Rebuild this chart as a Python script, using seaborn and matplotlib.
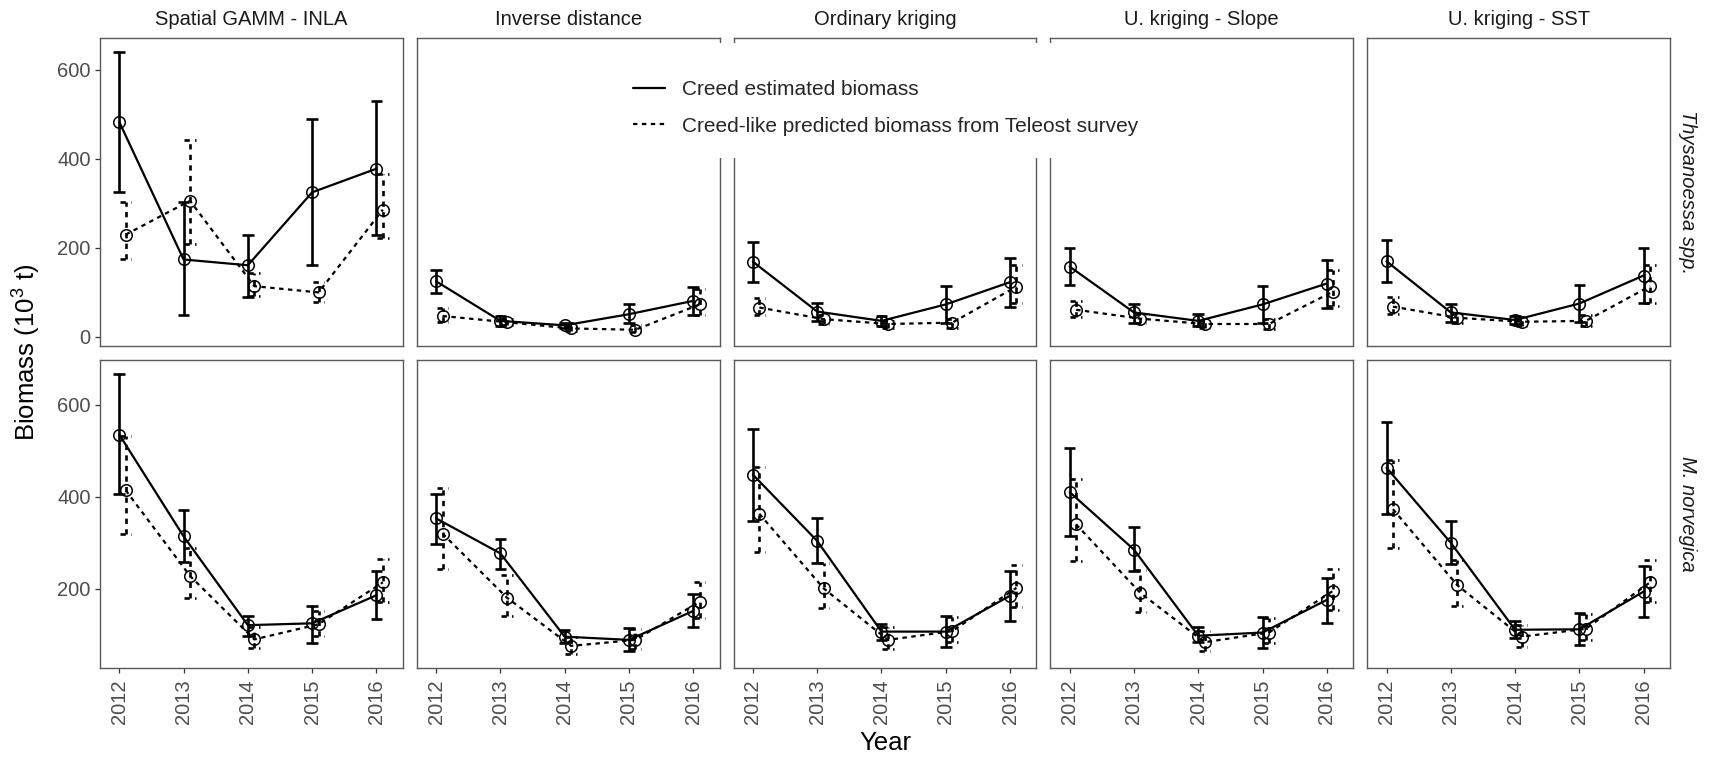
import numpy as np
import pandas as pd
import matplotlib
matplotlib.use("Agg")
import matplotlib.pyplot as plt
from matplotlib.lines import Line2D
from matplotlib.patches import Rectangle
import seaborn as sns

# ---------------- data ----------------
years = [2012, 2013, 2014, 2015, 2016]
methods = ["Spatial GAMM - INLA", "Inverse distance", "Ordinary kriging",
           "U. kriging - Slope", "U. kriging - SST"]
species = ["Thysanoessa spp.", "M. norvegica"]
series = ["Creed estimated biomass", "Creed-like predicted biomass from Teleost survey"]

# Thysanoessa spp. -- Creed estimated (rows = methods, cols = years)
thy_creed_est = [[483, 174, 161, 325, 378],
                 [125, 36, 26, 51, 81],
                 [169, 57, 36, 73, 123],
                 [158, 55, 36, 73, 120],
                 [170, 55, 38, 75, 138]]
thy_creed_lo = [[326, 49, 90, 161, 228],
                [99, 25, 19, 32, 49],
                [123, 36, 25, 32, 68],
                [117, 32, 25, 32, 66],
                [123, 34, 28, 34, 76]]
thy_creed_hi = [[641, 303, 230, 490, 530],
                [150, 46, 32, 73, 113],
                [214, 77, 47, 114, 177],
                [200, 75, 51, 114, 172],
                [217, 73, 47, 117, 200]]
# Thysanoessa spp. -- Teleost-predicted
thy_tel_est = [[230, 306, 114, 100, 286],
               [47, 33, 19, 16, 73],
               [66, 40, 29, 32, 113],
               [61, 41, 29, 29, 102],
               [68, 43, 34, 36, 114]]
thy_tel_lo = [[174, 208, 92, 79, 223],
              [34, 27, 14, 12, 49],
              [49, 29, 21, 21, 77],
              [45, 31, 21, 17, 70],
              [51, 31, 25, 25, 77]]
thy_tel_hi = [[303, 443, 143, 123, 367],
              [64, 40, 25, 26, 108],
              [87, 49, 36, 41, 161],
              [80, 51, 36, 40, 150],
              [90, 51, 41, 49, 161]]
# M. norvegica -- Creed estimated
mn_creed_est = [[535, 314, 121, 125, 186],
                [353, 277, 96, 89, 152],
                [448, 304, 107, 107, 185],
                [410, 285, 98, 105, 176],
                [463, 300, 111, 112, 194]]
mn_creed_lo = [[405, 258, 98, 83, 134],
               [298, 243, 82, 65, 116],
               [347, 256, 89, 73, 131],
               [315, 238, 84, 71, 126],
               [363, 253, 93, 77, 138]]
mn_creed_hi = [[667, 371, 142, 163, 239],
               [407, 308, 111, 114, 189],
               [547, 353, 124, 141, 238],
               [506, 334, 116, 139, 224],
               [562, 347, 129, 147, 249]]
# M. norvegica -- Teleost-predicted
mn_tel_est = [[414, 228, 90, 123, 214],
              [320, 181, 76, 89, 172],
              [363, 201, 89, 108, 202],
              [340, 191, 84, 105, 196],
              [373, 208, 96, 113, 214]]
mn_tel_lo = [[320, 181, 72, 98, 171],
             [243, 141, 59, 69, 136],
             [280, 158, 69, 84, 161],
             [261, 150, 65, 82, 155],
             [288, 163, 74, 89, 172]]
mn_tel_hi = [[532, 288, 118, 152, 264],
             [418, 230, 95, 112, 215],
             [464, 255, 116, 139, 251],
             [439, 241, 108, 136, 243],
             [479, 262, 121, 145, 262]]

# ---------------- build long table ----------------
tables = {
    (species[0], series[0]): (thy_creed_est, thy_creed_lo, thy_creed_hi),
    (species[0], series[1]): (thy_tel_est, thy_tel_lo, thy_tel_hi),
    (species[1], series[0]): (mn_creed_est, mn_creed_lo, mn_creed_hi),
    (species[1], series[1]): (mn_tel_est, mn_tel_lo, mn_tel_hi),
}
dodge = {series[0]: 0.0, series[1]: 0.1}
rows = []
for (sp, se), (est, lo, hi) in tables.items():
    for mi, m in enumerate(methods):
        for yi, yr in enumerate(years):
            rows.append(dict(species=sp, method=m, series=se, year=yr,
                             x=yr + dodge[se], est=est[mi][yi],
                             lo=lo[mi][yi], hi=hi[mi][yi]))
df = pd.DataFrame(rows)

# ---------------- styling ----------------
sns.set_theme(style="white")
plt.rcParams["font.family"] = ["Liberation Sans", "DejaVu Sans"]
plt.rcParams["mathtext.fontset"] = "custom"
plt.rcParams["mathtext.rm"] = "Liberation Sans"
plt.rcParams["mathtext.it"] = "Liberation Sans:italic"
plt.rcParams["mathtext.default"] = "rm"

W, H = 1713, 760
fig, axes = plt.subplots(2, 5, figsize=(W / 100, H / 100), dpi=100, sharex=True)
fig.subplots_adjust(left=100 / W, right=1670 / W, top=1 - 37.7 / H,
                    bottom=1 - 667.7 / H, wspace=0.0463, hspace=0.0464)

DASH = (2, 2)
ls_map = {series[0]: "-", series[1]: (0, DASH)}
border_col = "#5a5a5a"
tick_col = "#4D4D4D"
cap_half = 0.09

for r, sp in enumerate(species):
    sub_sp = df[df.species == sp]
    ymin, ymax = sub_sp.lo.min(), sub_sp.hi.max()
    rng = ymax - ymin
    ylim = (ymin - 0.05 * rng, ymax + 0.05 * rng)
    for c, m in enumerate(methods):
        ax = axes[r, c]
        sub = sub_sp[sub_sp.method == m]
        # error bars
        for se in series:
            s = sub[sub.series == se]
            ax.vlines(s.x, s.lo, s.hi, colors="black", linewidth=1.9,
                      linestyles=ls_map[se], zorder=2)
            for bound in ("lo", "hi"):
                ax.hlines(s[bound], s.x - cap_half, s.x + cap_half, colors="black",
                          linewidth=1.9, linestyles=ls_map[se], zorder=2)
        sns.lineplot(data=sub, x="x", y="est", style="series", style_order=series,
                     dashes={series[0]: "", series[1]: DASH},
                     markers={series[0]: "o", series[1]: "o"},
                     color="black", linewidth=1.6, markersize=8.3,
                     markerfacecolor="none", markeredgecolor="black",
                     markeredgewidth=1.1, legend=False, ax=ax, sort=False,
                     estimator=None, zorder=3)
        ax.set_ylim(*ylim)
        ax.set_xlim(2011.70, 2016.41)
        ax.set_xlabel("")
        ax.set_ylabel("")
        ax.set_xticks(years)
        ax.set_xticklabels([str(y) for y in years], rotation=90)
        ax.set_yticks([0, 200, 400, 600] if r == 0 else [200, 400, 600])
        ax.tick_params(axis="both", labelsize=14.5, labelcolor=tick_col,
                       color="#333333", length=3.3, width=0.9, pad=3.5)
        ax.tick_params(axis="x", pad=5)
        ax.tick_params(axis="y", left=(c == 0), labelleft=(c == 0))
        ax.tick_params(axis="x", bottom=(r == 1), labelbottom=(r == 1))
        for sp_ in ax.spines.values():
            sp_.set_visible(True)
            sp_.set_color(border_col)
            sp_.set_linewidth(1.0)
        ax.grid(False)
        ax.set_facecolor("white")
        if r == 0:
            ax.set_title(m, fontsize=14.5, color="#1A1A1A", pad=9)
    # row strip
    pos = axes[r, -1].get_position()
    fig.text(1688 / W, (pos.y0 + pos.y1) / 2, sp, rotation=-90, style="italic",
             fontsize=14.5, color="#1A1A1A", ha="center", va="center")

fig.text(27 / W, 1 - 352.7 / H, r"Biomass (10$^{3}$ t)", rotation=90, fontsize=18.5,
         ha="center", va="center", color="black")
fig.text(885 / W, 1 - 743 / H, "Year", fontsize=18.5, ha="center", va="center",
         color="black")

# legend on white box
fig.patches.append(Rectangle((617 / W, 1 - 158 / H), (1145 - 617) / W, (158 - 43) / H,
                             transform=fig.transFigure, facecolor="white",
                             edgecolor="none", zorder=5))
handles = [Line2D([], [], color="black", linewidth=1.6),
           Line2D([], [], color="black", linewidth=1.6, linestyle=(0, DASH))]
leg = fig.legend(handles, series, loc="center left",
                 bbox_to_anchor=(633 / W, 1 - 107.85 / H), frameon=False,
                 fontsize=15, handlelength=1.55, handletextpad=0.8,
                 labelspacing=0.85, borderpad=0, borderaxespad=0)
leg.set_zorder(6)

fig.savefig("out.png", dpi=100)
